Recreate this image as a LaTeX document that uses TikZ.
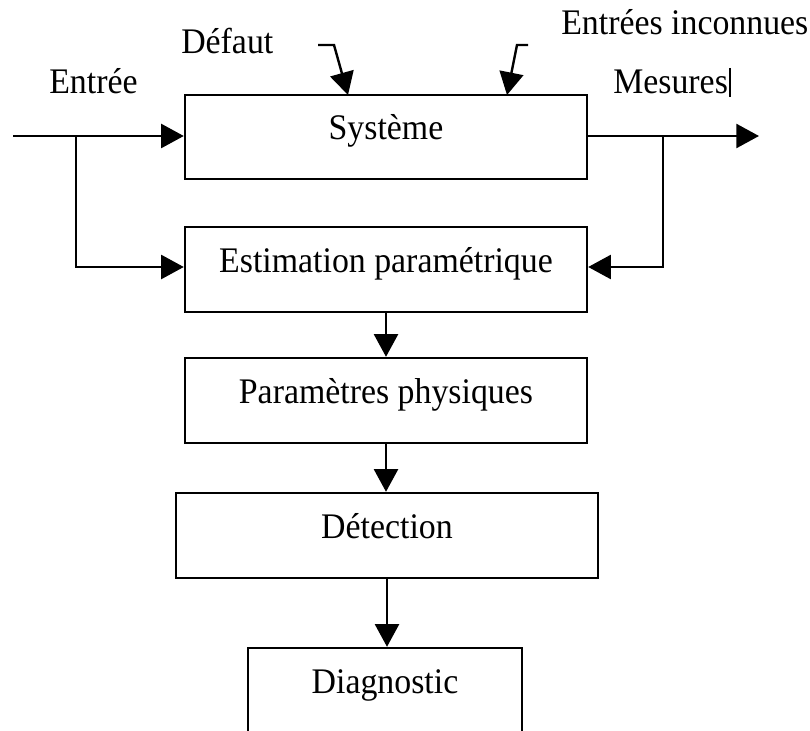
\documentclass[tikz,border=0pt]{standalone}
\usepackage{fontspec}
\setmainfont[FakeStretch=0.94]{Liberation Serif}
\usetikzlibrary{arrows.meta}
\begin{document}
\begin{tikzpicture}[x=0.75pt,y=-0.75pt,
  every node/.style={font=\fontsize{27}{32}\selectfont},
  box/.style={draw, line width=1.8pt, inner xsep=0pt, inner ysep=0pt, text height=33.75pt},
  arr/.style={line width=1.8pt, -{Triangle[length=17pt,width=18pt]}},
  ln/.style={line width=1.8pt}]
\useasboundingbox (0,0) rectangle (810,731);
\begin{scope}
\clip (0,0) rectangle (810,731);
\node[box, minimum width=301.5pt, text depth=29.25pt] (sys) at (386,137) {Système};
\node[box, minimum width=301.5pt, text depth=30pt] (est) at (386,269.5) {Estimation paramétrique};
\node[box, minimum width=301.5pt, text depth=30pt] (par) at (386,400.5) {Paramètres physiques};
\node[box, minimum width=316.5pt, text depth=30pt] (det) at (387,535.5) {Détection};
\node[box, minimum width=205.5pt, text depth=30pt] (diag) at (385,690.5) {Diagnostic};
\end{scope}

\node[anchor=base west, inner sep=0] (lentree) at (49,94) {Entrée};
\node[anchor=base west, inner sep=0] (ldefaut) at (181,54) {Défaut};
\node[anchor=base west, inner sep=0] (linc) at (561,35) {Entrées inconnues};
\node[anchor=base west, inner sep=0] (lmes) at (613,94) {Mesures};
\draw[line width=0.9pt] (730,68) -- (730,97);

\coordinate (in) at (13,136);
\coordinate (bl) at (76,136);
\coordinate (bl2) at (76,267);
\coordinate (out) at (759,136);
\coordinate (br) at (663,136);
\coordinate (br2) at (663,267);
\coordinate (d1) at (318,45);
\coordinate (d2) at (334,45);
\coordinate (d3) at (348,95);
\coordinate (e1) at (528,45);
\coordinate (e2) at (517,45);
\coordinate (e3) at (507,95);

\draw[arr] (in) -- (sys.west |- in);
\draw[arr] (sys.east |- out) -- (out);
\draw[arr] (bl) -- (bl2) -- (est.west |- bl2);
\draw[arr] (br) -- (br2) -- (est.east |- br2);
\draw[arr] (d1) -- (d2) -- (d3);
\draw[arr] (e1) -- (e2) -- (e3);
\draw[arr] (est.south) -- (est.south |- par.north);
\draw[arr] (par.south) -- (par.south |- det.north);
\draw[arr] (det.south) -- (det.south |- diag.north);
\end{tikzpicture}
\end{document}
